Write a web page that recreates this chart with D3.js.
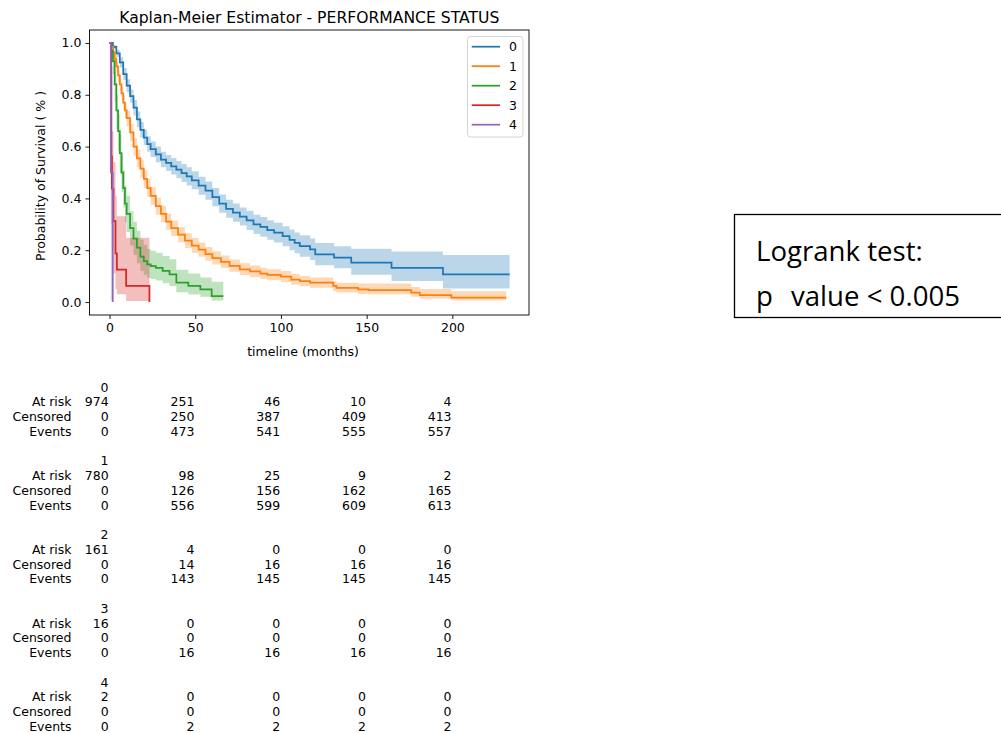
<!DOCTYPE html>
<html>
<head>
<meta charset="utf-8">
<script src="https://cdn.jsdelivr.net/npm/d3@7"></script>
<style>
  body { margin: 0; background: #fff; }
  svg { display: block; }
  text { font-family: "DejaVu Sans", sans-serif; fill: #000; }
</style>
</head>
<body>
<svg id="kmSvg" width="1001" height="733"></svg>
<script>
// ---- data ----
var groups = ["0", "1", "2", "3", "4"];
var colors = ["#1f77b4", "#ff7f0e", "#2ca02c", "#d62728", "#9467bd"];

// group 0
var t0 = [0, 2, 4, 6, 8, 10, 12, 14, 16, 18, 20, 22, 24, 27, 30, 33, 36, 39, 42, 45, 48, 52, 56, 60, 64, 68, 72, 76, 80, 84, 88, 92, 96, 101, 105, 108, 111, 117, 120, 131, 141, 164.5, 194.5, 233.4];
var s0 = [1.0, 0.985, 0.96, 0.925, 0.88, 0.835, 0.795, 0.75, 0.705, 0.665, 0.635, 0.61, 0.59, 0.57, 0.55, 0.537, 0.524, 0.511, 0.498, 0.485, 0.47, 0.449, 0.43, 0.405, 0.38, 0.36, 0.345, 0.33, 0.315, 0.30, 0.29, 0.278, 0.268, 0.254, 0.24, 0.228, 0.216, 0.203, 0.184, 0.171, 0.152, 0.132, 0.107, 0.107];
var lo0 = [1.0, 0.976, 0.946, 0.905, 0.857, 0.81, 0.77, 0.72, 0.675, 0.635, 0.605, 0.58, 0.56, 0.54, 0.52, 0.506, 0.492, 0.478, 0.463, 0.45, 0.435, 0.414, 0.395, 0.37, 0.345, 0.325, 0.31, 0.295, 0.278, 0.263, 0.252, 0.24, 0.23, 0.215, 0.2, 0.188, 0.175, 0.162, 0.142, 0.13, 0.105, 0.081, 0.052, 0.052];
var hi0 = [1.0, 0.993, 0.974, 0.945, 0.903, 0.86, 0.82, 0.78, 0.735, 0.695, 0.665, 0.64, 0.62, 0.6, 0.58, 0.568, 0.556, 0.544, 0.533, 0.52, 0.505, 0.484, 0.465, 0.44, 0.415, 0.395, 0.38, 0.365, 0.352, 0.337, 0.328, 0.316, 0.306, 0.293, 0.28, 0.268, 0.258, 0.245, 0.228, 0.215, 0.206, 0.195, 0.182, 0.182];

// group 1
var t1 = [0, 1, 2, 3, 4, 5, 6, 7, 8, 9, 10, 12, 14, 16, 18, 20, 22, 24, 27, 30, 33, 36, 40, 44, 48, 52, 56, 60, 65, 70, 76, 82, 88, 92, 100, 106, 111, 117, 130.5, 132.4, 145, 151, 176, 181, 199.4, 231.4];
var s1 = [1.0, 0.985, 0.965, 0.94, 0.91, 0.875, 0.84, 0.805, 0.77, 0.74, 0.71, 0.655, 0.6, 0.555, 0.515, 0.475, 0.44, 0.41, 0.37, 0.34, 0.31, 0.285, 0.26, 0.237, 0.218, 0.202, 0.185, 0.17, 0.155, 0.14, 0.126, 0.118, 0.11, 0.105, 0.098, 0.087, 0.081, 0.075, 0.062, 0.055, 0.049, 0.046, 0.036, 0.027, 0.017, 0.017];
var lo1 = [1.0, 0.975, 0.951, 0.922, 0.889, 0.851, 0.814, 0.777, 0.74, 0.709, 0.678, 0.621, 0.565, 0.52, 0.48, 0.44, 0.405, 0.376, 0.337, 0.308, 0.279, 0.255, 0.231, 0.209, 0.19, 0.175, 0.159, 0.145, 0.131, 0.117, 0.104, 0.096, 0.089, 0.084, 0.077, 0.067, 0.061, 0.055, 0.043, 0.037, 0.031, 0.03, 0.02, 0.013, 0.006, 0.006];
var hi1 = [1.0, 0.991, 0.976, 0.955, 0.927, 0.895, 0.862, 0.83, 0.797, 0.768, 0.739, 0.687, 0.633, 0.589, 0.55, 0.51, 0.475, 0.444, 0.403, 0.372, 0.341, 0.315, 0.29, 0.266, 0.247, 0.23, 0.212, 0.196, 0.18, 0.164, 0.15, 0.141, 0.132, 0.127, 0.12, 0.108, 0.101, 0.095, 0.081, 0.074, 0.072, 0.072, 0.058, 0.05, 0.042, 0.042];

// group 2
var t2 = [0, 1, 2, 3, 4, 5, 6, 7, 8, 9, 10, 12, 14, 16, 18, 20, 22, 24, 27, 31, 35, 39, 46, 53, 59.6, 66.4];
var s2 = [1.0, 0.97, 0.93, 0.84, 0.74, 0.66, 0.575, 0.5, 0.44, 0.38, 0.34, 0.285, 0.245, 0.21, 0.175, 0.158, 0.145, 0.139, 0.132, 0.12, 0.107, 0.075, 0.062, 0.049, 0.023, 0.023];
var lo2 = [1.0, 0.925, 0.88, 0.775, 0.668, 0.585, 0.5, 0.425, 0.365, 0.308, 0.27, 0.218, 0.182, 0.15, 0.12, 0.105, 0.094, 0.089, 0.083, 0.073, 0.062, 0.038, 0.029, 0.02, 0.006, 0.006];
var hi2 = [1.0, 0.99, 0.96, 0.89, 0.8, 0.725, 0.645, 0.57, 0.51, 0.45, 0.41, 0.35, 0.31, 0.275, 0.24, 0.22, 0.205, 0.198, 0.19, 0.178, 0.165, 0.125, 0.11, 0.095, 0.078, 0.078];

// group 3
var t3 = [0, 1.0, 1.4, 2.3, 3.5, 4.3, 9.7, 23.3];
var s3 = [1.0, 0.5625, 0.4375, 0.3125, 0.1875, 0.125, 0.0625, 0.0];
var lo3 = [1.0, 0.3, 0.2, 0.11, 0.05, 0.03, 0.004, 0.004];
var hi3 = [1.0, 0.78, 0.66, 0.54, 0.41, 0.331, 0.248, 0.248];

// group 4
var t4 = [0, 0.8, 1.9];
var s4 = [1.0, 0.5, 0.0];
var lo4 = [1.0, 0.006, 0.006];
var hi4 = [1.0, 0.91, 0.91];

var times = [t0, t1, t2, t3, t4];
var surv = [s0, s1, s2, s3, s4];
var ciLow = [lo0, lo1, lo2, lo3, lo4];
var ciHigh = [hi0, hi1, hi2, hi3, hi4];

// at-risk table
var tableTicks = [0, 50, 100, 150, 200];
var rowNames = ["At risk", "Censored", "Events"];
var atRisk = [[974, 251, 46, 10, 4], [780, 98, 25, 9, 2], [161, 4, 0, 0, 0], [16, 0, 0, 0, 0], [2, 0, 0, 0, 0]];
var censored = [[0, 250, 387, 409, 413], [0, 126, 156, 162, 165], [0, 14, 16, 16, 16], [0, 0, 0, 0, 0], [0, 0, 0, 0, 0]];
var events = [[0, 473, 541, 555, 557], [0, 556, 599, 609, 613], [0, 143, 145, 145, 145], [0, 16, 16, 16, 16], [0, 2, 2, 2, 2]];

var xTicks = [0, 50, 100, 150, 200];
var yTicks = [0, 0.2, 0.4, 0.6, 0.8, 1.0];

// ---- drawing ----
var svg = d3.select("#kmSvg");
var plotLeft = 89.5, plotRight = 529, plotTop = 30, plotBottom = 315;
var fs = 12.5;

var x = d3.scaleLinear().domain([-11.67, 244.7]).range([plotLeft, plotRight]);
var y = d3.scaleLinear().domain([-0.05, 1.05]).range([plotBottom, plotTop]);

svg.append("clipPath").attr("id", "plotClip")
    .append("rect").attr("x", plotLeft).attr("y", plotTop)
    .attr("width", plotRight - plotLeft).attr("height", plotBottom - plotTop);

var plot = svg.append("g").attr("clip-path", "url(#plotClip)");

// confidence bands first (they sit under every line)
for (let g = 0; g < groups.length; g++) {
    let pts = times[g].map(function (t, i) { return [t, ciLow[g][i], ciHigh[g][i]]; });
    let band = d3.area()
        .x(function (d) { return x(d[0]); })
        .y0(function (d) { return y(d[1]); })
        .y1(function (d) { return y(d[2]); })
        .curve(d3.curveStepAfter);
    plot.append("path").attr("d", band(pts))
        .attr("fill", colors[g]).attr("fill-opacity", 0.3).attr("stroke", "none");
}

for (let g = 0; g < groups.length; g++) {
    let pts = times[g].map(function (t, i) { return [t, surv[g][i]]; });
    let line = d3.line()
        .x(function (d) { return x(d[0]); })
        .y(function (d) { return y(d[1]); })
        .curve(d3.curveStepAfter);
    plot.append("path").attr("d", line(pts))
        .attr("fill", "none").attr("stroke", colors[g]).attr("stroke-width", 1.75);
}

// axes
var xAxis = d3.axisBottom(x).tickValues(xTicks).tickSize(4).tickPadding(4).tickFormat(d3.format("d"));
var yAxis = d3.axisLeft(y).tickValues(yTicks).tickSize(4).tickPadding(4).tickFormat(d3.format(".1f"));
var gx = svg.append("g").attr("transform", "translate(0," + plotBottom + ")").call(xAxis);
var gy = svg.append("g").attr("transform", "translate(" + plotLeft + ",0)").call(yAxis);
[gx, gy].forEach(function (ax) {
    ax.select(".domain").remove();
    ax.selectAll("text").style("font-size", fs + "px").style("font-family", "DejaVu Sans");
    ax.selectAll("line").attr("stroke", "#000").attr("stroke-width", 0.9);
});

svg.append("rect").attr("x", plotLeft).attr("y", plotTop)
    .attr("width", plotRight - plotLeft).attr("height", plotBottom - plotTop)
    .attr("fill", "none").attr("stroke", "#000").attr("stroke-width", 0.9);

// titles
svg.append("text").attr("x", (plotLeft + plotRight) / 2).attr("y", 22.5)
    .attr("text-anchor", "middle").style("font-size", "15.6px")
    .text("Kaplan-Meier Estimator - PERFORMANCE STATUS");
svg.append("text").attr("x", 303).attr("y", 355.5)
    .attr("text-anchor", "middle").style("font-size", fs + "px")
    .text("timeline (months)");
svg.append("text")
    .attr("transform", "translate(45,176) rotate(-90)")
    .attr("text-anchor", "middle").style("font-size", fs + "px")
    .text("Probability of Survival ( % )");

// legend
var legend = svg.append("g");
legend.append("rect").attr("x", 467.5).attr("y", 36.5).attr("width", 55.5).attr("height", 100.5)
    .attr("rx", 3).attr("fill", "#fff").attr("fill-opacity", 0.8)
    .attr("stroke", "#d5d5d5").attr("stroke-width", 1);
groups.forEach(function (name, i) {
    let ly = 46.7 + 19.5 * i;
    legend.append("line").attr("x1", 471.7).attr("x2", 500).attr("y1", ly).attr("y2", ly)
        .attr("stroke", colors[i]).attr("stroke-width", 1.75);
    legend.append("text").attr("x", 509).attr("y", ly).attr("dy", "0.36em")
        .style("font-size", fs + "px").text(name);
});

// at-risk table
var table = svg.append("g");
var rowStep = 14.75, groupStep = 73.75, tableTop = 387;
groups.forEach(function (name, g) {
    let gy0 = tableTop + groupStep * g;
    table.append("text").attr("x", x(0) - 1).attr("y", gy0).attr("dy", "0.36em")
        .attr("text-anchor", "end").style("font-size", fs + "px").text(name);
    let rows = [atRisk[g], censored[g], events[g]];
    rows.forEach(function (vals, r) {
        let ry = gy0 + rowStep * (r + 1);
        table.append("text").attr("x", 71.5).attr("y", ry).attr("dy", "0.36em")
            .attr("text-anchor", "end").style("font-size", fs + "px").text(rowNames[r]);
        vals.forEach(function (v, c) {
            table.append("text").attr("x", x(tableTicks[c]) - 0.8).attr("y", ry).attr("dy", "0.36em")
                .attr("text-anchor", "end").style("font-size", fs + "px").text(v);
        });
    });
});

// logrank box
svg.append("clipPath").attr("id", "boxClip")
    .append("rect").attr("x", 734).attr("y", 214).attr("width", 300).attr("height", 103.5);
var box = svg.append("g");
box.append("rect").attr("x", 734.5).attr("y", 214.5).attr("width", 300).attr("height", 103)
    .attr("fill", "#fff").attr("stroke", "#000").attr("stroke-width", 1.3);
var boxText = box.append("g").attr("clip-path", "url(#boxClip)");
boxText.append("text").attr("x", 756).attr("y", 260.5)
    .style("font-family", "Open Sans").style("font-size", "27.6px")
    .text("Logrank test:");
var pLine = boxText.append("text").attr("y", 305.5)
    .style("font-family", "Open Sans").style("font-size", "27.6px");
pLine.append("tspan").attr("x", 756).text("p ");
pLine.append("tspan").attr("x", 791).text("value < 0.005");
</script>
</body>
</html>
